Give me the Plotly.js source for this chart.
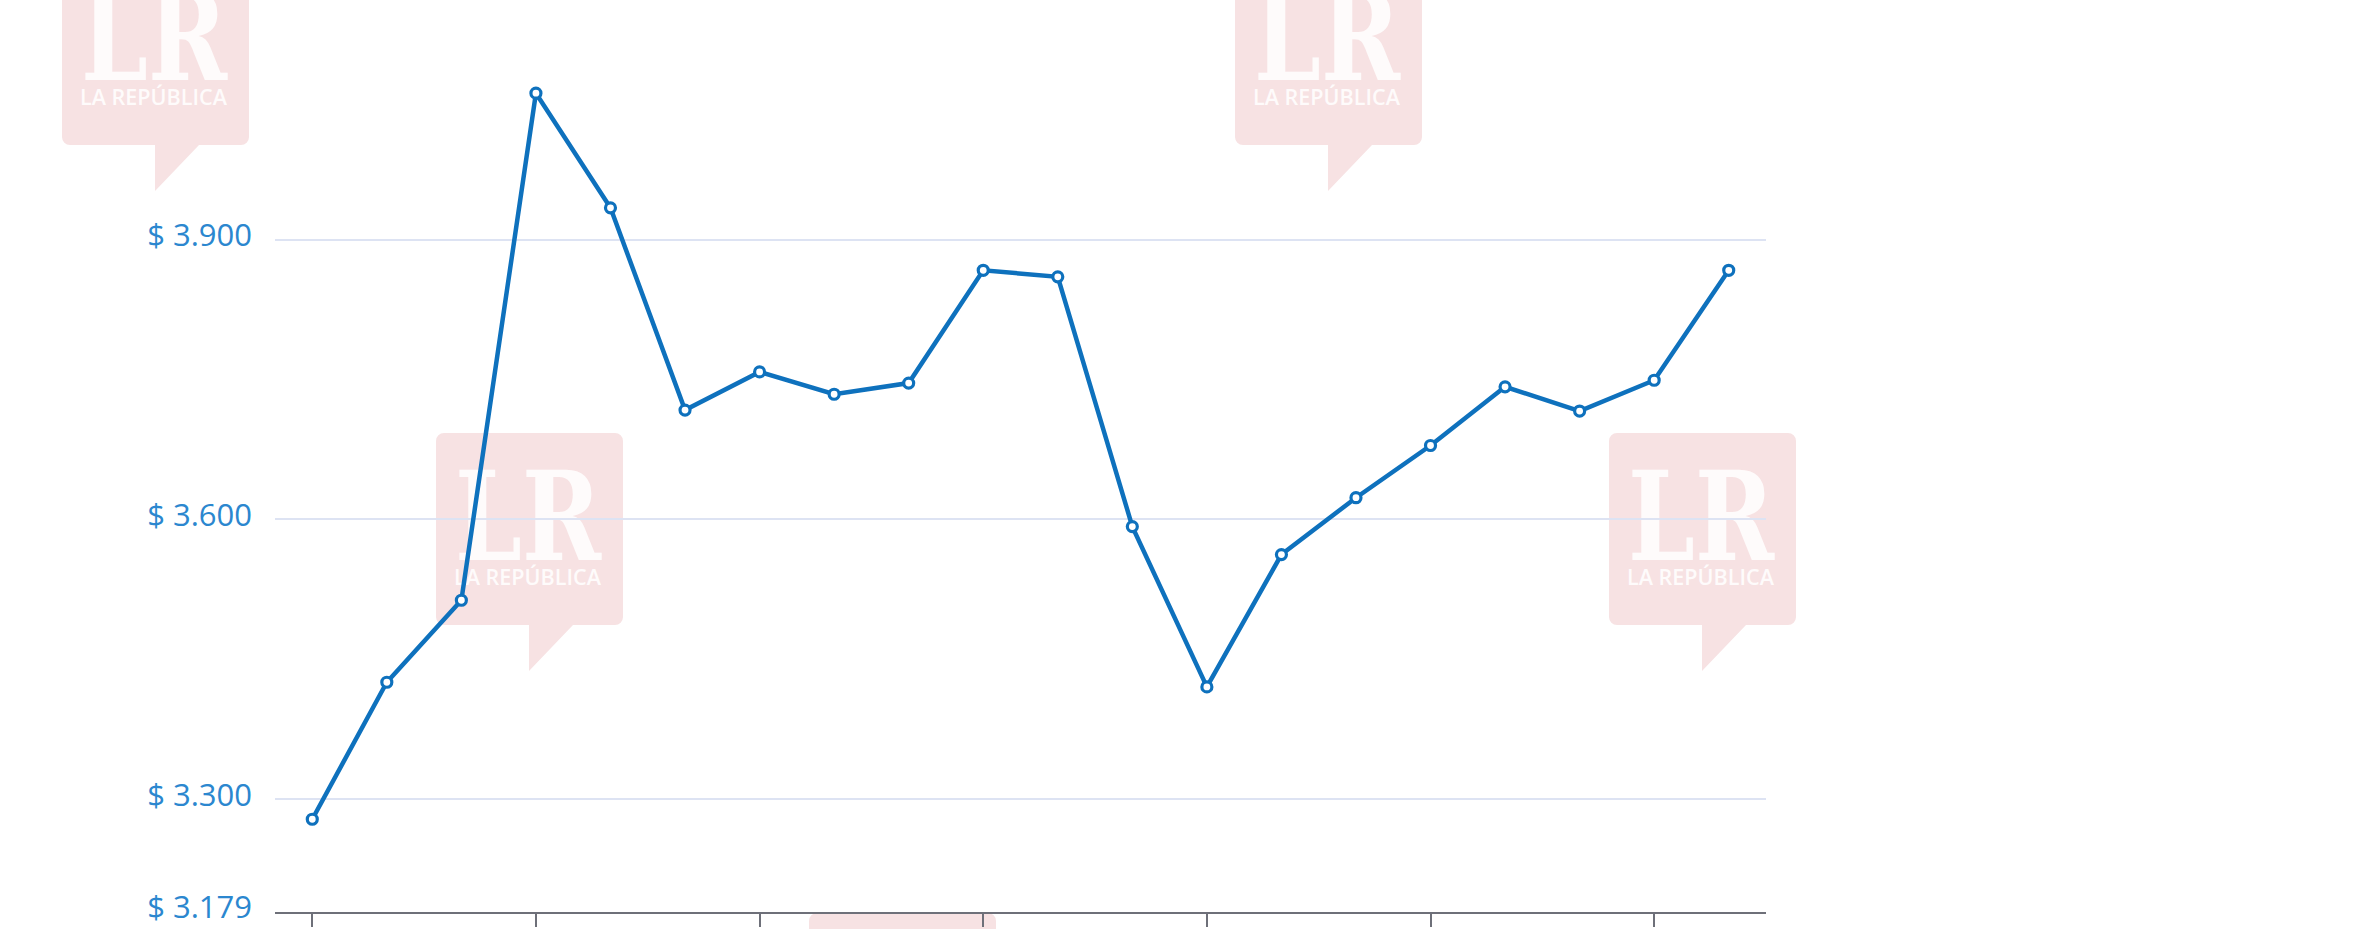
<!DOCTYPE html>
<html>
<head>
<meta charset="utf-8">
<script src="https://cdn.plot.ly/plotly-3.0.1.min.js"></script>
<style>
  html, body { margin: 0; padding: 0; background: #ffffff; }
  #chart { width: 2356px; height: 929px; }
</style>
</head>
<body>
<div id="chart"></div>
<script>
// ---- data ----
const periods = [1, 2, 3, 4, 5, 6, 7, 8, 9, 10, 11, 12, 13, 14, 15, 16, 17, 18, 19, 20];
const prices = [3278, 3425, 3513, 4057, 3934, 3717, 3758, 3734, 3746, 3867,
                3860, 3592, 3420, 3562, 3623, 3679, 3742, 3716, 3749, 3867];
const xTickVals = [1, 4, 7, 10, 13, 16, 19];
const yTickVals = [3179, 3300, 3600, 3900];
const yTickText = ['$ 3.179', '$ 3.300', '$ 3.600', '$ 3.900'];

// ---- layout geometry (pixels) ----
const W = 2356, H = 929;
const mL = 275, mR = 590, mT = 0, mB = 17;
const plotW = W - mL - mR, plotH = H - mT - mB;

// ---- watermark (La República logo) as an inline SVG image ----
const wmW = 187, wmH = 238;
const wmSvg =
  "<svg xmlns='http://www.w3.org/2000/svg' width='" + wmW + "' height='" + wmH + "' viewBox='0 0 " + wmW + " " + wmH + "'>" +
  "<path d='M8 0 H179 A8 8 0 0 1 187 8 V184 A8 8 0 0 1 179 192 H137 L93 238 V192 H8 A8 8 0 0 1 0 184 V8 A8 8 0 0 1 8 0 Z' fill='#f7e2e3'/>" +
  "<text x='19' y='127' textLength='146' lengthAdjust='spacingAndGlyphs' font-family='DejaVu Serif, Liberation Serif, serif' font-weight='bold' font-size='124' fill='#fefbfb'>LR</text>" +
  "<text x='18' y='152' textLength='147' lengthAdjust='spacingAndGlyphs' font-family='Open Sans, sans-serif' font-weight='600' font-size='22' fill='#fefbfb'>LA REPÚBLICA</text>" +
  "</svg>";
const wmSrc = 'data:image/svg+xml;charset=utf-8,' + encodeURIComponent(wmSvg);
const wmSpots = [[62, -47], [1235, -47], [436, 433], [1609, 433], [809, 913]];
const images = wmSpots.map(function (p) {
  return {
    source: wmSrc, xref: 'paper', yref: 'paper',
    x: (p[0] - mL) / plotW, y: (H - mB - p[1]) / plotH,
    sizex: wmW / plotW, sizey: wmH / plotH,
    xanchor: 'left', yanchor: 'top', sizing: 'stretch', layer: 'below', opacity: 1
  };
});

const trace = {
  type: 'scatter', mode: 'lines+markers',
  x: periods, y: prices,
  line: { color: '#0e71bd', width: 4.5 },
  marker: { symbol: 'circle', size: 10, color: '#ffffff', line: { color: '#0e71bd', width: 3.2 } },
  cliponaxis: false,
  hoverinfo: 'y'
};

const layout = {
  width: W, height: H,
  margin: { l: mL, r: mR, t: mT, b: mB, pad: 0 },
  paper_bgcolor: '#ffffff',
  plot_bgcolor: 'rgba(0,0,0,0)',
  showlegend: false,
  images: images,
  xaxis: {
    range: [0.5, 20.5],
    tickmode: 'array', tickvals: xTickVals,
    showticklabels: false,
    showgrid: false, zeroline: false,
    showline: true, linecolor: '#6e7079', linewidth: 2,
    ticks: 'outside', ticklen: 13, tickwidth: 2, tickcolor: '#6e7079'
  },
  yaxis: {
    range: [3178.5, 4157],
    tickmode: 'array', tickvals: yTickVals, ticktext: yTickText,
    showgrid: true, gridcolor: '#dde3f3', gridwidth: 2,
    zeroline: false, showline: false, ticks: '',
    ticklabelstandoff: 22,
    ticklabelshift: -4,
    ticklabeloverflow: 'allow',
    tickfont: { family: 'Open Sans, sans-serif', size: 31, color: '#2b87cf' }
  }
};

Plotly.newPlot('chart', [trace], layout, { displayModeBar: false, staticPlot: true });
</script>
</body>
</html>
